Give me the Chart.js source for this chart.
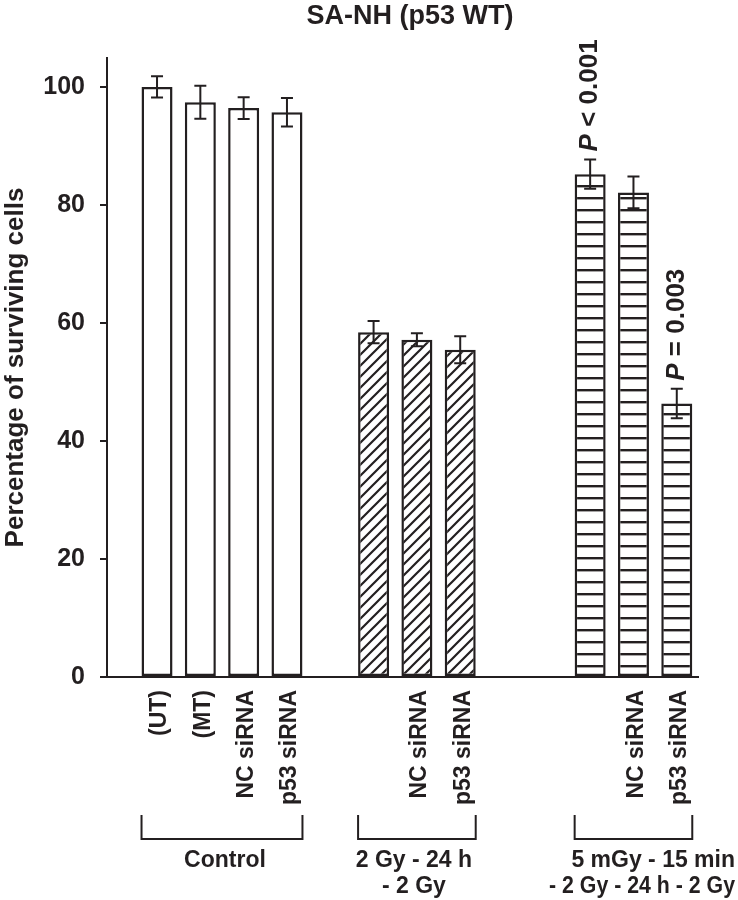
<!DOCTYPE html>
<html><head><meta charset="utf-8">
<script src="https://cdn.jsdelivr.net/npm/chart.js@4.4.0/dist/chart.umd.min.js"></script>
<style>html,body{margin:0;padding:0;background:#fff}#wrap{width:738px;height:900px}</style>
</head><body><div id="wrap"><canvas id="c" width="738" height="900"></canvas></div>
<script>
// ---- data ----
const categories = ['(UT)', '(MT)', 'NC siRNA', 'p53 siRNA', '', '', 'NC siRNA', 'p53 siRNA', '', '', '', 'NC siRNA', 'p53 siRNA'];
const values = [100.1, 97.5, 96.5, 95.8, null, 58.5, 57.2, 55.5, null, null, 85.3, 82.2, 46.4];
const errors = [1.8, 2.8, 1.85, 2.4, null, 1.9, 1.1, 2.3, null, null, 2.5, 2.7, 2.5];
const groupOf = [0, 0, 0, 0, null, 1, 1, 1, null, null, 2, 2, 2];
const groupNames = [['Control'], ['2 Gy - 24 h', '- 2 Gy'], ['5 mGy - 15 min', '- 2 Gy - 24 h - 2 Gy']];
const annotations = [{slot: 10, italic: 'P', rest: ' < 0.001'}, {slot: 12, italic: 'P', rest: ' = 0.003'}];
const yTickValues = [0, 20, 40, 60, 80, 100];
const titleText = 'SA-NH (p53 WT)';
const yTitle = 'Percentage of surviving cells';

// ---- style ----
const INK = '#231f20';
const FONT = "'Liberation Sans', Arial, Helvetica, sans-serif";
Chart.defaults.font.family = FONT;
Chart.defaults.color = INK;

const canvas = document.getElementById('c');
const ctx = canvas.getContext('2d');

function makeHatch() {
  const s = 11, c = document.createElement('canvas');
  c.width = s; c.height = s;
  const g = c.getContext('2d');
  g.fillStyle = '#fff'; g.fillRect(0, 0, s, s);
  g.strokeStyle = INK; g.lineWidth = 2.2;
  g.beginPath();
  g.moveTo(-1, s + 1); g.lineTo(s + 1, -1);
  g.moveTo(-1, 1); g.lineTo(1, -1);
  g.moveTo(s - 1, s + 1); g.lineTo(s + 1, s - 1);
  g.stroke();
  return ctx.createPattern(c, 'repeat');
}
function makeLines() {
  const c = document.createElement('canvas');
  c.width = 4; c.height = 12;
  const g = c.getContext('2d');
  g.fillStyle = '#fff'; g.fillRect(0, 0, 4, 12);
  g.fillStyle = INK; g.fillRect(0, 5, 4, 2.4);
  return ctx.createPattern(c, 'repeat');
}
const fills = ['#ffffff', makeHatch(), makeLines()];

const points = [], bg = [];
values.forEach((v, i) => {
  if (v !== null) { points.push({x: i, y: v}); bg.push(fills[groupOf[i]]); }
});

const extras = {
  id: 'extras',
  afterDatasetsDraw(chart) {
    const {ctx} = chart;
    const xs = chart.scales.x, ys = chart.scales.y;
    ctx.save();
    ctx.strokeStyle = INK; ctx.fillStyle = INK; ctx.lineWidth = 2;
    // error bars
    values.forEach((v, i) => {
      if (v === null) return;
      const x = xs.getPixelForValue(i);
      const yt = ys.getPixelForValue(v + errors[i]);
      const yb = ys.getPixelForValue(v - errors[i]);
      ctx.beginPath();
      ctx.moveTo(x, yt); ctx.lineTo(x, yb);
      ctx.moveTo(x - 6, yt); ctx.lineTo(x + 6, yt);
      ctx.moveTo(x - 6, yb); ctx.lineTo(x + 6, yb);
      ctx.stroke();
    });
    // P-value annotations
    annotations.forEach(a => {
      const x = xs.getPixelForValue(a.slot);
      const y = ys.getPixelForValue(values[a.slot] + errors[a.slot]) - 8;
      ctx.save();
      ctx.translate(x, y); ctx.rotate(-Math.PI / 2);
      ctx.textBaseline = 'middle'; ctx.textAlign = 'left';
      ctx.font = 'italic bold 26px ' + FONT;
      ctx.fillText(a.italic, 0, 0);
      const w = ctx.measureText(a.italic).width;
      ctx.font = 'bold 26px ' + FONT;
      ctx.fillText(a.rest, w, 0);
      ctx.restore();
    });
    // brackets and group labels
    const half = 15.5;
    const shift = [3, -3, 0];
    const align = ['center', 'center', 'right'];
    const maxW = [300, 300, 186];
    groupNames.forEach((lines, g) => {
      const slots = groupOf.map((q, i) => q === g ? i : -1).filter(i => i >= 0);
      const x0 = xs.getPixelForValue(slots[0]) - half;
      const x1 = xs.getPixelForValue(slots[slots.length - 1]) + half;
      ctx.beginPath();
      ctx.moveTo(x0, 815); ctx.lineTo(x0, 839); ctx.lineTo(x1, 839); ctx.lineTo(x1, 815);
      ctx.stroke();
      ctx.font = 'bold 23px ' + FONT;
      ctx.textAlign = align[g]; ctx.textBaseline = 'middle';
      const tx = align[g] === 'right' ? chart.width - 3 : (x0 + x1) / 2 + shift[g];
      lines.forEach((t, k) => ctx.fillText(t, tx, 861 + k * 26, maxW[g]));
    });
    // title
    ctx.font = 'bold 27px ' + FONT;
    ctx.textAlign = 'center'; ctx.textBaseline = 'middle';
    ctx.fillText(titleText, 410, 17);
    ctx.restore();
  }
};

new Chart(ctx, {
  type: 'bar',
  data: {
    datasets: [{
      data: points,
      backgroundColor: bg,
      borderColor: INK,
      borderWidth: 2.5,
      borderSkipped: false,
      barPercentage: 0.716,
      categoryPercentage: 1
    }]
  },
  options: {
    responsive: false,
    devicePixelRatio: 1,
    animation: false,
    layout: {padding: {left: 0, right: 40, top: 58, bottom: 0}},
    plugins: {legend: {display: false}, tooltip: {enabled: false}, title: {display: false}},
    scales: {
      x: {
        type: 'linear',
        offset: false,
        min: -1.155, max: 12.49,
        grid: {display: false, offset: false},
        border: {display: true, color: INK, width: 2},
        afterBuildTicks(scale) {
          scale.ticks = categories.map((c, i) => ({value: i})).filter(t => categories[t.value] !== '');
        },
        afterFit(scale) { scale.height = 223; },
        ticks: {
          autoSkip: false, minRotation: 90, maxRotation: 90, padding: 5, labelOffset: 3,
          font: {size: 23, weight: 'bold'}, color: INK,
          callback: (v) => categories[v]
        }
      },
      y: {
        min: 0, max: 105,
        grid: {display: true, drawOnChartArea: false, drawTicks: true, tickLength: 7, color: INK, lineWidth: 2},
        border: {display: true, color: INK, width: 2},
        afterBuildTicks(scale) { scale.ticks = yTickValues.map(v => ({value: v})); },
        afterFit(scale) { scale.width = 107; },
        ticks: {padding: 15, font: {size: 25, weight: 'bold'}, color: INK},
        title: {display: true, text: yTitle, padding: 0, font: {size: 26, weight: 'bold'}, color: INK}
      }
    }
  },
  plugins: [extras]
});
</script></body></html>
